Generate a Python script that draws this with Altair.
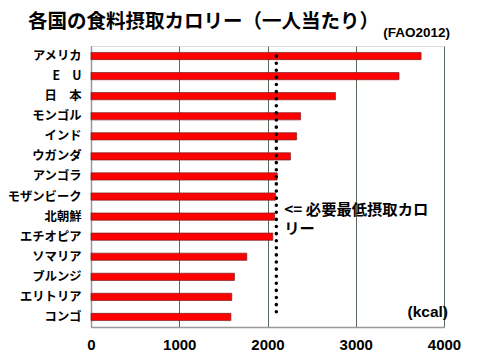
import altair as alt
import pandas as pd

countries = ["アメリカ", "E　U", "日　本", "モンゴル", "インド", "ウガンダ", "アンゴラ",
             "モザンビーク", "北朝鮮", "エチオピア", "ソマリア", "ブルンジ", "エリトリア", "コンゴ"]
kcal = [3740, 3490, 2770, 2375, 2330, 2260, 2110, 2090, 2080, 2060, 1765, 1625, 1595, 1585]
minimum_kcal = 2100
x_ticks = [0, 1000, 2000, 3000, 4000]
title_text = "各国の食料摂取カロリー（一人当たり）"
source_text = "(FAO2012)"

df = pd.DataFrame({"country": countries, "kcal": kcal})

W, H = 353, 281
jp = "Noto Sans CJK JP"
lat = "Liberation Sans"

y_scale = alt.Scale(domain=countries, paddingInner=0.64, paddingOuter=0.32)
y_enc = alt.Y("country:N", sort=None, title=None, scale=y_scale,
              axis=alt.Axis(labelFont=jp, labelFontWeight="bold", labelFontSize=12.3,
                            labelColor="#000", labelPadding=10, ticks=False,
                            domain=True, domainColor="#999", domainWidth=1.5, grid=False))
x_scale = alt.Scale(domain=[0, 4000], nice=False)
x_enc = alt.X("kcal:Q", scale=x_scale, title=None,
              axis=alt.Axis(values=x_ticks, format="d", labelFont=lat, labelFontWeight="bold",
                            labelFontSize=15, labelColor="#000", labelPadding=10,
                            ticks=False, domainColor="#999", domainWidth=1.5,
                            grid=True, gridColor="#5a6a5a", gridWidth=1,
                            labelFlush=False))

bars = alt.Chart(df).mark_bar(color="#FF0000", stroke="#7a2020", strokeWidth=0.7).encode(
    x=x_enc, y=y_enc)

line_df = pd.DataFrame({"kcal": [minimum_kcal], "top": [countries[0]], "bottom": [countries[-1]]})
rule = alt.Chart(line_df).mark_rule(color="#000", strokeWidth=3.5, strokeDash=[0.1, 7],
                                    strokeCap="round").encode(
    x=alt.X("kcal:Q", scale=x_scale),
    y=alt.Y("top:N", scale=y_scale, sort=None),
    y2="bottom:N")

note_df = pd.DataFrame({"kcal": [minimum_kcal], "country": ["北朝鮮"],
                        "text": [["<=  必要最低摂取カロ", "リー"]]})
note = alt.Chart(note_df).mark_text(font=jp, fontWeight="bold", fontSize=15.3, align="left",
                                    baseline="middle", dx=8, dy=-7, lineHeight=19.5,
                                    color="#000").encode(
    x=alt.X("kcal:Q", scale=x_scale),
    y=alt.Y("country:N", scale=y_scale, sort=None),
    text="text")

unit_df = pd.DataFrame({"kcal": [4000], "country": ["コンゴ"], "text": ["(kcal)"]})
unit = alt.Chart(unit_df).mark_text(font=lat, fontWeight="bold", fontSize=15.5, align="right",
                                    baseline="middle", dx=4, dy=-5, color="#000").encode(
    x=alt.X("kcal:Q", scale=x_scale),
    y=alt.Y("country:N", scale=y_scale, sort=None),
    text="text")

src = alt.Chart(pd.DataFrame({"t": [source_text]})).mark_text(
    font=lat, fontWeight="bold", fontSize=13.5, align="right", baseline="middle",
    color="#000").encode(x=alt.value(W + 6), y=alt.value(-13), text="t")

ttl = alt.Chart(pd.DataFrame({"t": [title_text]})).mark_text(
    font=jp, fontWeight="bold", fontSize=19.5, align="left", baseline="alphabetic",
    color="#000").encode(x=alt.value(-63), y=alt.value(-18), text="t")

chart = alt.layer(bars, rule, note, unit, src, ttl).properties(
    width=W, height=H,
    autosize=alt.AutoSizeParams(type="none"),
    padding={"left": 83, "top": 38, "right": 28, "bottom": 25},
).configure_view(fill="#CCFFCC", stroke="#aaaaaa", strokeWidth=1.5).configure(background="white")

chart.save("out.html", embed_options={"renderer": "svg", "actions": False})
